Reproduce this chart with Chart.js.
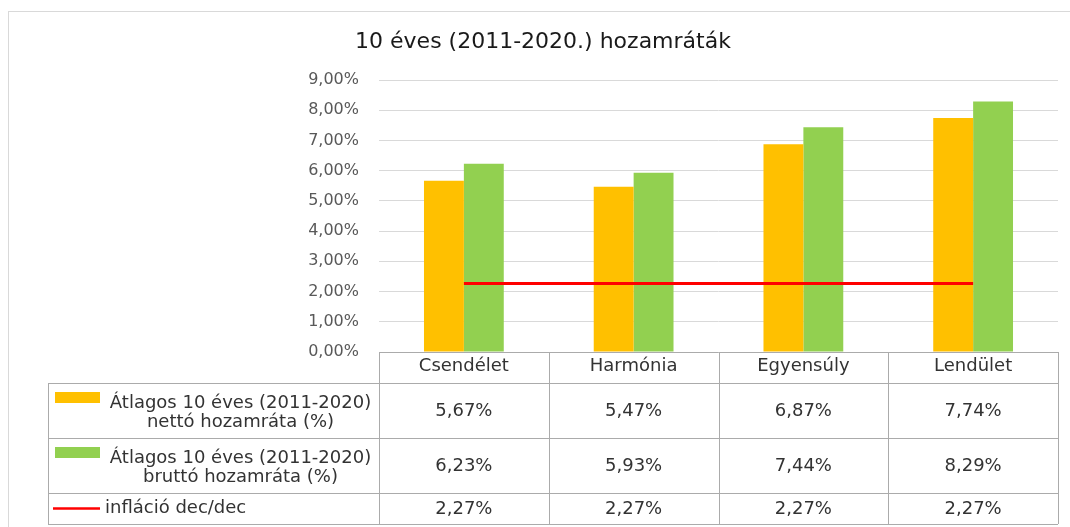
<!DOCTYPE html>
<html>
<head>
<meta charset="utf-8">
<script src="https://cdn.jsdelivr.net/npm/chart.js@4"></script>
<style>
  html, body { margin: 0; padding: 0; background: #fff; }
  #wrap { width: 1070px; height: 527px; }
</style>
</head>
<body>
<div id="wrap"><canvas id="chart" width="1070" height="527"></canvas></div>
<script>
// --- data ---
const chartTitle = '10 éves (2011-2020.) hozamráták';
const categories = ['Csendélet', 'Harmónia', 'Egyensúly', 'Lendület'];
const nettoValues = [5.67, 5.47, 6.87, 7.74];
const bruttoValues = [6.23, 5.93, 7.44, 8.29];
const inflacioValues = [2.27, 2.27, 2.27, 2.27];
const seriesNames = [
    ['Átlagos 10 éves (2011-2020)', 'nettó hozamráta (%)'],
    ['Átlagos 10 éves (2011-2020)', 'bruttó hozamráta (%)'],
    ['infláció dec/dec']
];
const yMin = 0, yMax = 9, yStep = 1;

const FONT = '"DejaVu Sans", sans-serif';
const ORANGE = '#FFC000', GREEN = '#92D050', RED = '#FF0000';
const BORDER = '#ababab';
const TEXT = '#333333';

const fmt = v => v.toFixed(2).replace('.', ',') + '%';

// --- frame, title and data table drawn around the plot ---
const tablePlugin = {
    id: 'dataTable',
    beforeDraw(chart) {
        const ctx = chart.ctx;
        ctx.save();
        ctx.strokeStyle = '#d9d9d9';
        ctx.lineWidth = 1;
        ctx.strokeRect(8.5, 11.5, 1100, 600);
        ctx.restore();
    },
    afterDraw(chart) {
        const { ctx, chartArea, scales } = chart;
        const x = scales.x;
        const colW = (chartArea.right - chartArea.left) / categories.length;
        const top = chartArea.bottom;
        const rowY = [top, top + 31, top + 86, top + 141, top + 172];
        const tableLeft = 48;

        ctx.save();
        // title
        ctx.fillStyle = '#1a1a1a';
        ctx.font = '22px ' + FONT;
        ctx.textAlign = 'center';
        ctx.textBaseline = 'middle';
        ctx.fillText(chartTitle, 543, 42);

        // grid of the table
        ctx.strokeStyle = BORDER;
        ctx.lineWidth = 1;
        const hl = (x1, x2, y) => { ctx.beginPath(); ctx.moveTo(x1, Math.round(y) + 0.5); ctx.lineTo(x2, Math.round(y) + 0.5); ctx.stroke(); };
        const vl = (xx, y1, y2) => { ctx.beginPath(); ctx.moveTo(Math.round(xx) + 0.5, y1); ctx.lineTo(Math.round(xx) + 0.5, y2); ctx.stroke(); };
        hl(chartArea.left, chartArea.right, rowY[0]);
        for (let i = 1; i < rowY.length; i++) hl(tableLeft, chartArea.right, rowY[i]);
        vl(tableLeft, rowY[1], rowY[4]);
        for (let i = 0; i <= categories.length; i++) {
            vl(chartArea.left + i * colW, rowY[0], rowY[4]);
        }

        // values
        ctx.fillStyle = TEXT;
        ctx.font = '18px ' + FONT;
        ctx.textAlign = 'center';
        ctx.textBaseline = 'middle';
        const rows = [nettoValues, bruttoValues, inflacioValues];
        rows.forEach((vals, r) => {
            const cy = (rowY[r + 1] + rowY[r + 2]) / 2 + 1;
            vals.forEach((v, i) => ctx.fillText(fmt(v), x.getPixelForValue(i), cy));
        });

        // legend keys + series names
        const keyX1 = 55, keyX2 = 100;
        const textMid = (102 + chartArea.left) / 2;
        [ORANGE, GREEN].forEach((c, r) => {
            const y0 = rowY[r + 1];
            ctx.fillStyle = c;
            ctx.fillRect(keyX1, y0 + 9, keyX2 - keyX1, 11);
            ctx.fillStyle = TEXT;
            ctx.textAlign = 'center';
            ctx.fillText(seriesNames[r][0], textMid, y0 + 20);
            ctx.fillText(seriesNames[r][1], textMid, y0 + 39);
        });
        ctx.strokeStyle = RED;
        ctx.lineWidth = 2.5;
        const ry = (rowY[3] + rowY[4]) / 2;
        ctx.beginPath(); ctx.moveTo(53, ry); ctx.lineTo(keyX2, ry); ctx.stroke();
        ctx.fillStyle = TEXT;
        ctx.textAlign = 'left';
        ctx.fillText(seriesNames[2][0], 105, ry);
        ctx.restore();
    }
};

const ctx = document.getElementById('chart').getContext('2d');
new Chart(ctx, {
    type: 'bar',
    data: {
        labels: categories,
        datasets: [
            {
                type: 'line',
                label: seriesNames[2].join(' '),
                data: inflacioValues,
                borderColor: RED,
                borderWidth: 3,
                pointRadius: 0,
                fill: false,
                order: 0
            },
            {
                label: seriesNames[0].join(' '),
                data: nettoValues,
                backgroundColor: ORANGE,
                order: 1
            },
            {
                label: seriesNames[1].join(' '),
                data: bruttoValues,
                backgroundColor: GREEN,
                order: 1
            }
        ]
    },
    options: {
        responsive: false,
        animation: false,
        devicePixelRatio: 1,
        layout: { padding: { top: 80, right: 12, bottom: 0, left: 0 } },
        datasets: { bar: { categoryPercentage: 0.47, barPercentage: 1.0 } },
        plugins: {
            legend: { display: false },
            title: { display: false },
            tooltip: { enabled: false }
        },
        scales: {
            x: {
                grid: { display: false, drawTicks: false },
                border: { display: false },
                ticks: { color: TEXT, font: { family: FONT, size: 18 }, padding: 4 },
                afterFit(scale) { scale.height = 175; }
            },
            y: {
                min: yMin,
                max: yMax,
                grid: { color: '#d9d9d9', drawTicks: false },
                border: { display: false },
                ticks: {
                    stepSize: yStep,
                    color: '#595959',
                    padding: 20,
                    font: { family: FONT, size: 16 },
                    callback: v => fmt(v)
                },
                afterFit(scale) { scale.width = 379; }
            }
        }
    },
    plugins: [tablePlugin]
});
</script>
</body>
</html>
